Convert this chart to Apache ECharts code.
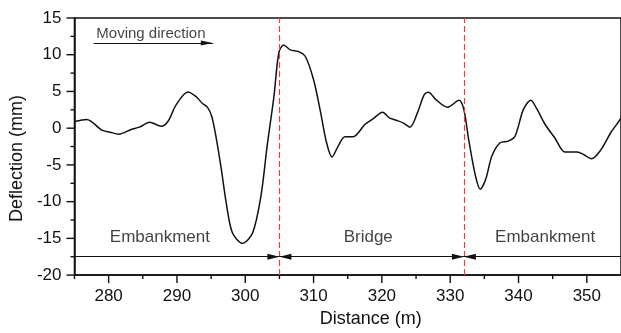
<!DOCTYPE html>
<html>
<head>
<meta charset="utf-8">
<title>Deflection</title>
<script src="https://cdn.jsdelivr.net/npm/echarts@6/dist/echarts.min.js"></script>
<style>
  html, body { margin: 0; padding: 0; background: #fff; }
  #chart { width: 621px; height: 333px; }
</style>
</head>
<body>
<div id="chart"></div>
<script>
// distance (m) and deflection (mm)
const distance = [275, 276.8, 279.0, 280.2, 281.5, 283.3, 284.5, 286.0, 287.7, 288.7, 289.9, 291.6,
  292.8, 293.7, 294.5, 295.1, 295.7, 296.5, 297.2, 298.1, 299.6, 301.1, 302.3, 303.2, 304.2, 304.9,
  305.6, 306.6, 307.8, 308.8, 310.0, 311.0, 311.9, 312.7, 313.6, 314.6, 315.8, 317.5, 318.7, 320.1,
  321.1, 322.1, 323.1, 324.1, 325.2, 326.2, 326.8, 327.9, 329.6, 331.3, 332.0, 332.7, 333.7, 334.4,
  335.2, 336.1, 337.3, 338.5, 339.5, 340.7, 341.8, 342.6, 343.9, 345.3, 346.8, 348.5, 349.2, 350.7,
  352.1, 353.5, 354.7, 355];
const deflection = [0.9, 1.18, -0.27, -0.54, -0.81, -0.18, 0.14, 0.81, 0.27, 0.95, 3.2, 4.93,
  4.3, 3.4, 2.8, 1.6, -1.08, -5.6, -10.1, -14.2, -15.67, -14.2, -9.2, -2.44, 4.34, 10.2,
  11.34, 10.66, 10.43, 9.76, 6.6, 2.3, -1.98, -3.93, -2.44, -1.17, -1.17, 0.5, 1.27, 2.17,
  1.4, 1.08, 0.73, 0.14, 2.09, 4.57, 4.88, 3.9, 2.85, 3.8, 2.53, -1.53, -6.5, -8.3,
  -6.95, -3.8, -1.98, -1.76, -1.08, 2.53, 3.8, 2.76, 0.5, -1.3, -3.25, -3.25, -3.43, -4.15,
  -2.89, -0.62, 0.95, 1.4];

// section boundaries and annotation positions
const boundaries = [305, 332];
const sectionY = -17.5;
const sectionNames = ['Embankment', 'Bridge', 'Embankment'];
const sectionLabelX = [287.5, 318, 343.9];
const sectionLabelY = -14.8;
const moveArrow = [[277.8, 11.6], [295.25, 11.6]];
const moveText = [278.2, 12.9];

// tick positions
const xTicks = [280, 290, 300, 310, 320, 330, 340, 350];
const xMinorTicks = [275, 285, 295, 305, 315, 325, 335, 345];
const yTicks = [-20, -15, -10, -5, 0, 5, 10, 15];
const yMinorTicks = [-17.5, -12.5, -7.5, -2.5, 2.5, 7.5, 12.5];

const chart = echarts.init(document.getElementById('chart'));

const font = 'Liberation Sans, Arial, sans-serif';
const xMin = 275, xMax = 355, yMin = -20, yMax = 15;

let curve = distance.map((d, i) => [d, deflection[i]]);

let arrowEnd = { symbol: 'triangle', symbolSize: [6, 12], symbolOffset: [0, 6] };
let noEnd = { symbol: 'none' };

let sectionLines = [
  [Object.assign({ coord: [xMin, sectionY] }, noEnd), Object.assign({ coord: [boundaries[0], sectionY] }, arrowEnd)],
  [Object.assign({ coord: [boundaries[0], sectionY] }, arrowEnd), Object.assign({ coord: [boundaries[1], sectionY] }, arrowEnd)],
  [Object.assign({ coord: [boundaries[1], sectionY] }, arrowEnd), Object.assign({ coord: [xMax, sectionY] }, noEnd)],
  [Object.assign({ coord: moveArrow[0] }, noEnd),
   { coord: moveArrow[1], symbol: 'triangle', symbolSize: [5, 12], symbolOffset: [0, 6] }]
];

// tick marks: [x, y, length, 0 = x axis / 1 = y axis]
let tickData = []
  .concat(xTicks.map(v => [v, yMin, 8, 0]))
  .concat(xMinorTicks.map(v => [v, yMin, 4, 0]))
  .concat(yTicks.map(v => [xMin, v, 8, 1]))
  .concat(yMinorTicks.map(v => [xMin, v, 4, 1]));

let renderTick = (params, api) => {
  let p = api.coord([api.value(0), api.value(1)]);
  let len = api.value(2);
  let isY = api.value(3) === 1;
  return {
    type: 'line',
    shape: isY
      ? { x1: p[0], y1: p[1], x2: p[0] - len, y2: p[1] }
      : { x1: p[0], y1: p[1], x2: p[0], y2: p[1] + len },
    style: { stroke: '#111', lineWidth: 1.4 }
  };
};

let option = {
  animation: false,
  backgroundColor: '#fff',
  grid: {
    left: 72, top: 18, width: 551, height: 258,
    show: true, borderColor: '#111', borderWidth: 1.5, backgroundColor: 'transparent'
  },
  xAxis: {
    type: 'value', min: xMin, max: xMax,
    name: 'Distance (m)', nameLocation: 'middle', nameGap: 34,
    nameTextStyle: { fontFamily: font, fontSize: 18, color: '#111', padding: [0, 0, 0, 46] },
    axisLine: { show: true, onZero: false, lineStyle: { color: '#111', width: 1.5 } },
    axisTick: { show: false },
    axisLabel: { customValues: xTicks, margin: 13, fontFamily: font, fontSize: 17, color: '#111' },
    splitLine: { show: false }
  },
  yAxis: {
    type: 'value', min: yMin, max: yMax, interval: 5,
    name: 'Deflection (mm)', nameLocation: 'middle', nameGap: 46,
    nameTextStyle: { fontFamily: font, fontSize: 18, color: '#111', padding: [0, 24, 0, 0] },
    axisLine: { show: true, onZero: false, lineStyle: { color: '#111', width: 1.5 } },
    axisTick: { show: false },
    axisLabel: { margin: 13, fontFamily: font, fontSize: 17, color: '#111' },
    splitLine: { show: false }
  },
  series: [{
    name: 'deflection',
    type: 'line',
    data: curve,
    smooth: 0.3,
    showSymbol: false,
    lineStyle: { color: '#111', width: 1.5 },
    z: 3,
    markLine: {
      silent: true,
      symbol: 'none',
      label: { show: false },
      lineStyle: { color: '#ee3b3b', width: 1.2, type: [6, 3] },
      data: boundaries.map(b => ({ xAxis: b }))
    }
  }, {
    name: 'sections',
    type: 'line',
    data: [],
    markLine: {
      silent: true,
      animation: false,
      label: { show: false },
      lineStyle: { color: '#111', width: 1, type: 'solid' },
      itemStyle: { color: '#111' },
      data: sectionLines
    }
  }, {
    name: 'labels',
    type: 'scatter',
    symbolSize: 0,
    silent: true,
    data: sectionNames.map((n, i) => ({ name: n, value: [sectionLabelX[i], sectionLabelY] }))
      .concat([{
        name: 'Moving direction', value: moveText,
        label: { align: 'left', fontSize: 15 }
      }]),
    label: {
      show: true, position: 'inside', formatter: '{b}',
      fontFamily: font, fontSize: 17, color: '#111'
    }
  }, {
    name: 'ticks',
    type: 'custom',
    silent: true,
    clip: false,
    z: 5,
    encode: { x: 0, y: 1 },
    data: tickData,
    renderItem: renderTick
  }]
};

chart.setOption(option);
</script>
</body>
</html>
